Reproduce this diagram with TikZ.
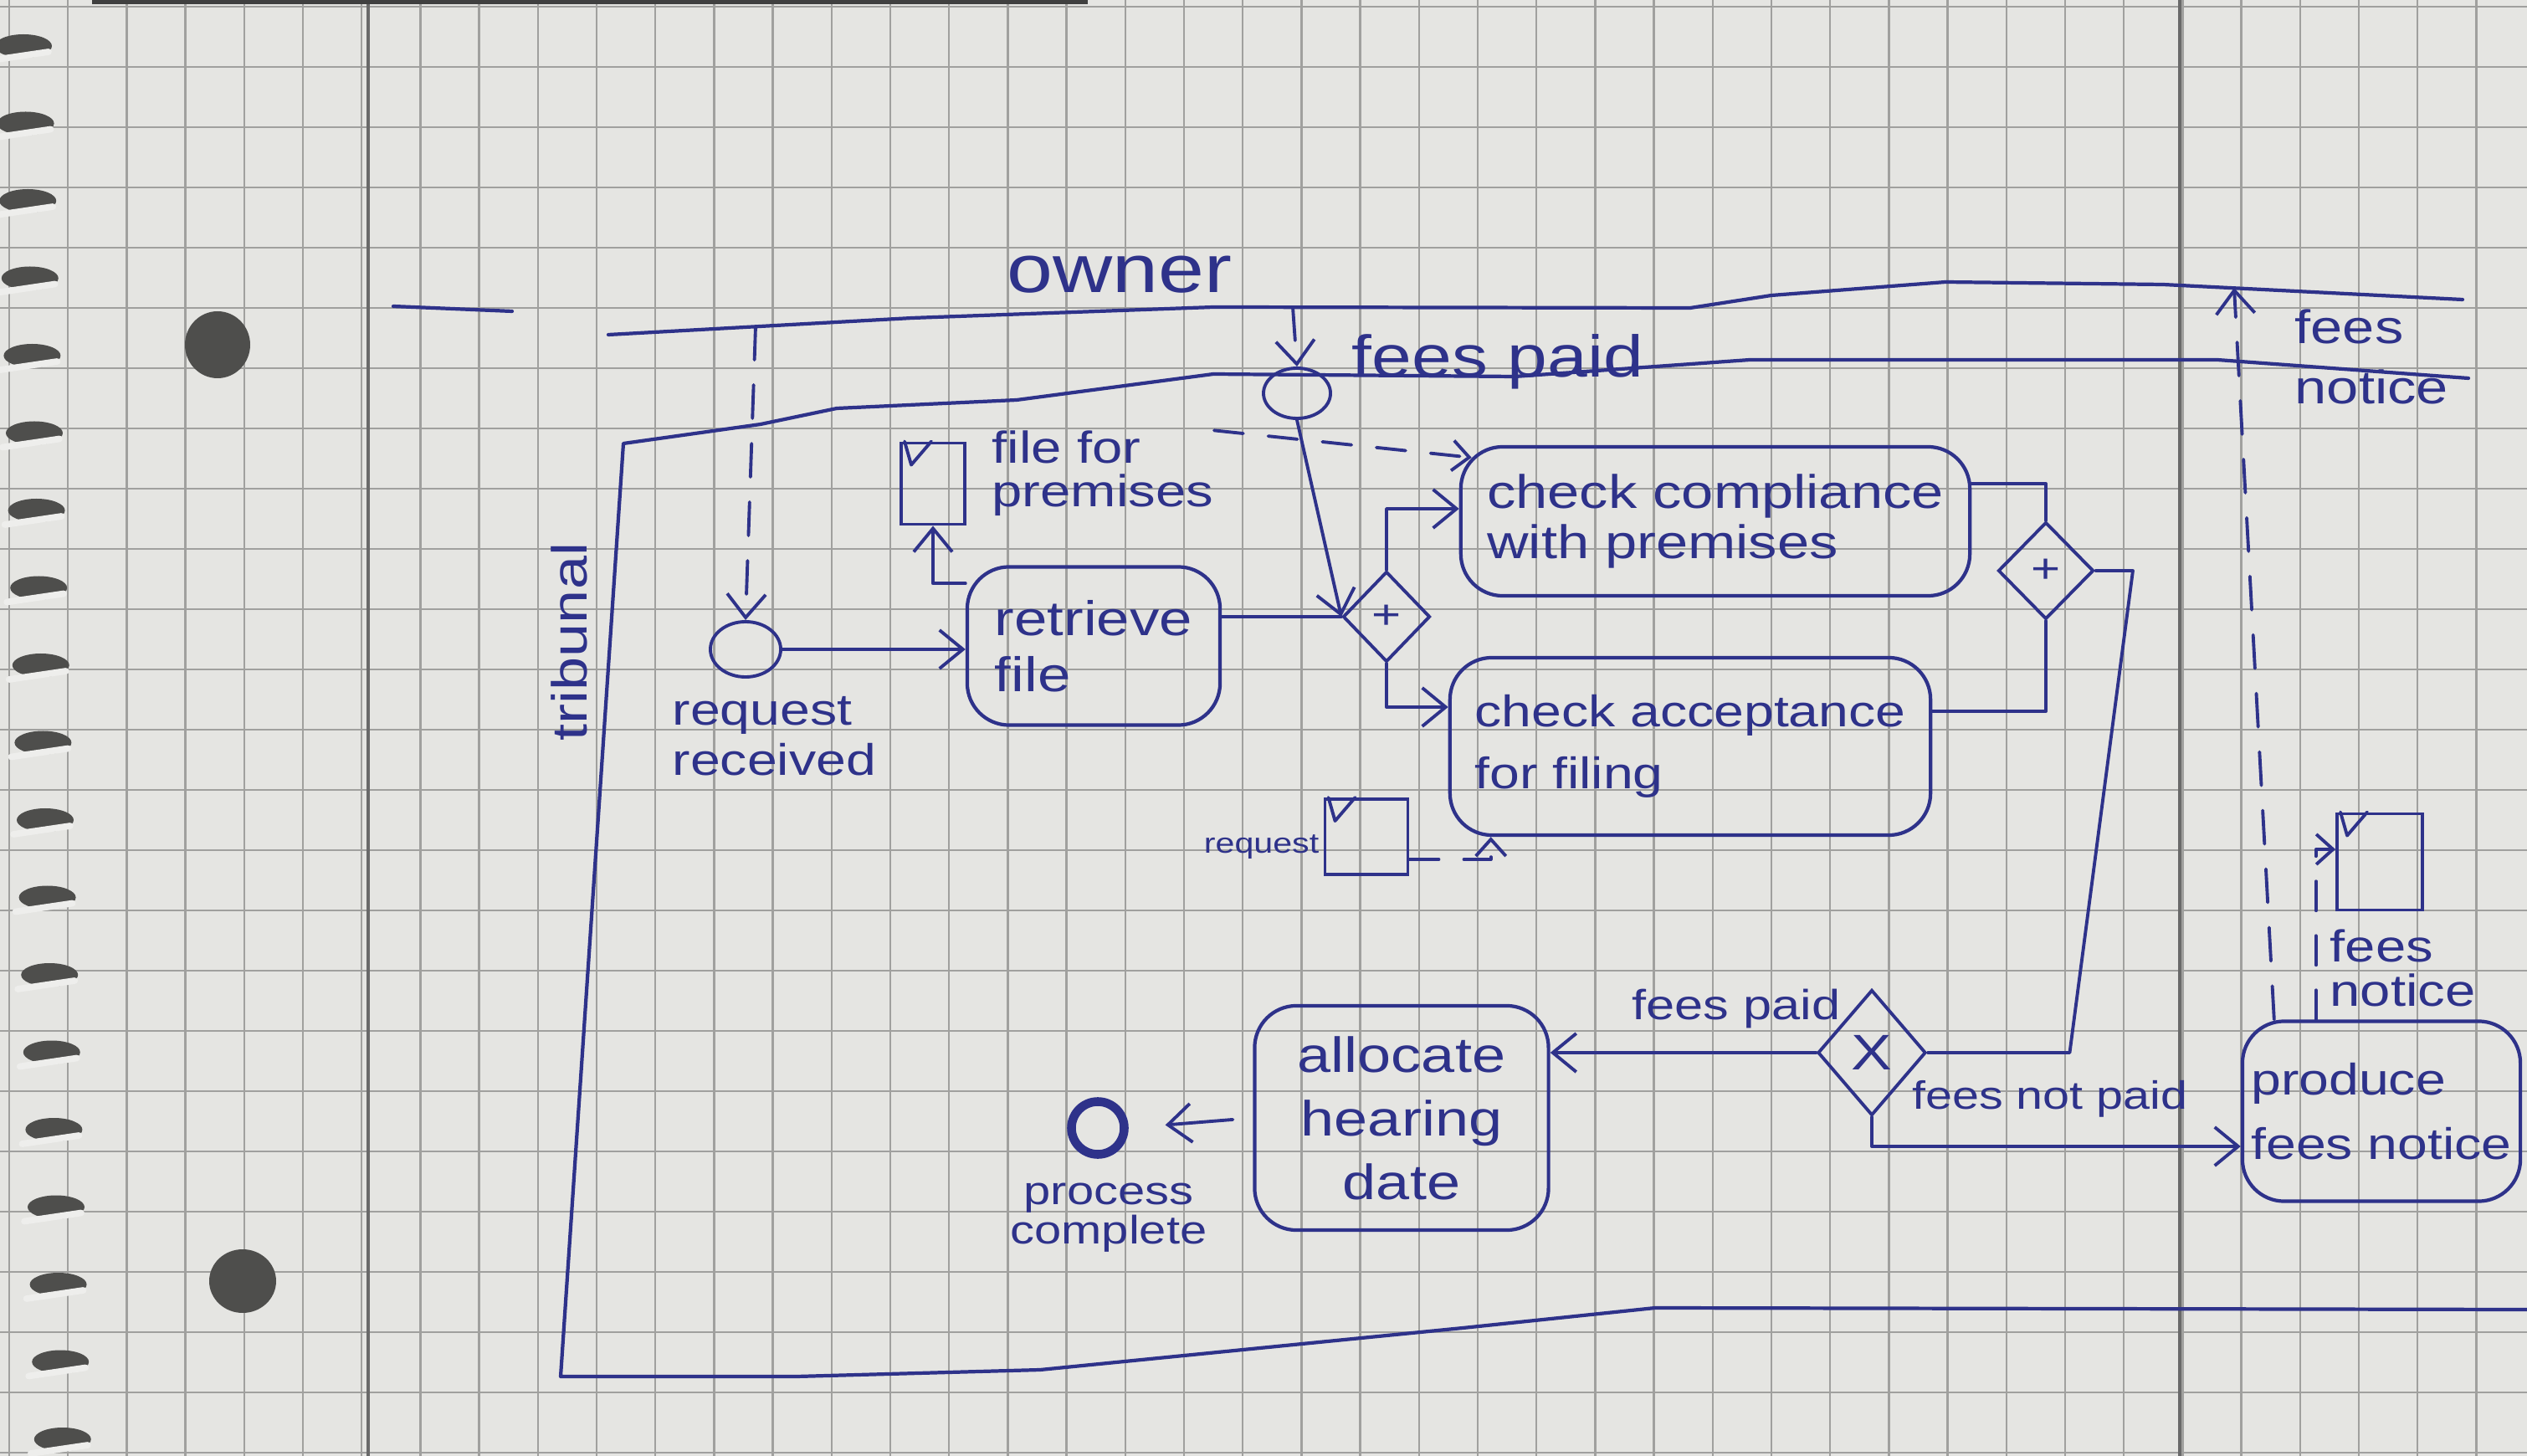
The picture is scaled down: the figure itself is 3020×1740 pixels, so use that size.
\documentclass[tikz,border=0pt]{standalone}
\usepackage{fontspec}
\setmainfont{Liberation Sans}[FakeStretch=1.22]
\usetikzlibrary{shapes.geometric,arrows.meta,calc}
\definecolor{ink}{RGB}{46,50,138}
\definecolor{paper}{RGB}{229,229,226}
\definecolor{gridc}{RGB}{160,160,158}
\definecolor{marginc}{RGB}{105,105,105}
\definecolor{holec}{RGB}{78,78,76}
\definecolor{wirec}{RGB}{238,238,236}
\newcommand\myfs[2]{\fontsize{#1}{#2}\selectfont}
\begin{document}
\begin{tikzpicture}[x=0.01cm,y=-0.01cm,
  pool/.style={draw=ink,line width=1.2pt,line cap=round,line join=round},
  seq/.style={draw=ink,line width=1.1pt,line cap=round,line join=round},
  flow/.style={seq,-{Straight Barb[length=2.8mm,width=4.6mm]}},
  msg/.style={flow,dash pattern=on 4mm off 3mm},
  dassoc/.style={seq,dash pattern=on 3.5mm off 3mm,-{Straight Barb[length=2mm,width=3.6mm]}},
  task/.style={draw=ink,line width=1.2pt,rounded corners=5mm,text=ink,inner sep=0pt,align=left},
  dataobj/.style={draw=ink,line width=1.1pt,inner sep=0pt},
  gate/.style={diamond,draw=ink,line width=1.1pt,inner sep=0pt,text=ink},
  event/.style={ellipse,draw=ink,line width=1.1pt,inner sep=0pt},
  lbl/.style={text=ink,inner sep=0pt,align=left},
  gridline/.style={draw=gridc,line width=0.7pt},
  marginline/.style={draw=marginc,line width=1.3pt}
]
\newcommand\foldmark[1]{\draw[seq] ($(#1.north west)+(6,0)$) -- ($(#1.north west)+(14,28)$) -- ($(#1.north west)+(38,0)$);}
% paper
\useasboundingbox (0,0) rectangle (3020,1740);
\fill[paper] (0,0) rectangle (3020,1740);
\foreach \i in {0,...,43} {\draw[gridline] ({11+70.2*\i},0) -- ({11+70.2*\i},1740);}
\foreach \i in {0,...,24} {\draw[gridline] (0,{8+72*\i}) -- (3020,{8+72*\i});}
\draw[marginline] (440,0) -- (440,1740);
\draw[marginline] (2605,0) -- (2605,1740);
\fill[black!75] (110,0) rectangle (1300,5);
% punch holes and spiral
\fill[holec] (260,412) ellipse [x radius=39, y radius=40];
\fill[holec] (290,1531) ellipse [x radius=40, y radius=38];
\foreach \i in {0,...,18} {
  \fill[holec] ({28+2.6*\i},{55+92.5*\i}) ellipse [x radius=34, y radius=14];
  \draw[wirec,line width=2.2pt,line cap=round] ({-10+2.6*\i},{72+92.5*\i}) -- ({58+2.6*\i},{62+92.5*\i});
}

% pools
\draw[pool] (470,366) -- (612,372);
\draw[pool] (727,400) -- (1090,380) -- (1450,367) -- (2020,368) -- (2117,353) -- (2325,337) -- (2585,340) -- (2943,358);
\draw[pool] (2950,452) -- (2650,430) -- (2091,430) -- (1810,450) -- (1450,447) -- (1215,478) -- (1000,488) -- (909,507) -- (745,530) -- (670,1645) -- (952,1645) -- (1243,1637) -- (1748,1587) -- (1978,1563) -- (3020,1565);
\coordinate (m1) at (903,390);
\coordinate (m2) at (1545,367);
\coordinate (m3) at (2670,344);
\node[lbl,font=\myfs{23}{24}] (ownl) at (1338,328) {owner};
\node[lbl,rotate=90,font=\myfs{16.8}{17}] (tribl) at (680,767) {tribunal};

% nodes
\node[event,minimum width=8.4mm,minimum height=6.6mm] (se) at (891,776) {};
\node[lbl,anchor=west,font=\myfs{15}{17}] (sel) at (803,880) {request\\received};
\node[task,minimum width=30.2mm,minimum height=18.9mm,font=\myfs{16.5}{19}] (rf) at (1307,772) {retrieve\\file};
\node[dataobj,minimum width=7.6mm,minimum height=9.7mm] (fd) at (1115,578) {};
\foldmark{fd}
\node[lbl,anchor=west,font=\myfs{15.2}{14.8}] (fdl) at (1185,566) {file for\\premises};
\node[event,minimum width=8mm,minimum height=6mm] (fp) at (1550,470) {};
\node[lbl,font=\myfs{20}{22}] (fpl) at (1790,432) {fees paid};
\node[gate,minimum width=10.4mm,minimum height=10.8mm,font=\myfs{14}{14}] (g1) at (1657,737) {+};
\node[task,minimum width=60.8mm,minimum height=17.8mm,font=\myfs{16}{17}] (cc) at (2050,623) {check compliance\\with premises};
\node[task,minimum width=57.4mm,minimum height=21.2mm,font=\myfs{15}{21}] (ca) at (2020,892) {check acceptance\\for filing};
\node[dataobj,minimum width=9.9mm,minimum height=9mm] (req) at (1633,1000) {};
\foldmark{req}
\node[lbl,anchor=east,font=\myfs{9.6}{10}] (reql) at (1577,1012) {request};
\node[gate,minimum width=11.4mm,minimum height=11.6mm,font=\myfs{14}{14}] (g2) at (2445,682) {+};
\node[gate,minimum width=12.9mm,minimum height=15mm,font=\myfs{17}{17}] (gx) at (2237,1258) {X};
\node[task,minimum width=35.1mm,minimum height=26.8mm,align=center,font=\myfs{16.8}{21.6}] (al) at (1675,1336) {allocate\\hearing\\date};
\node[circle,draw=ink,line width=3pt,minimum size=6.3mm,inner sep=0pt] (end) at (1312,1348) {};
\node[lbl,align=center,font=\myfs{13.5}{13.5}] (endl) at (1325,1455) {process\\complete};
\node[task,minimum width=33.2mm,minimum height=21.5mm,font=\myfs{15}{22}] (pf) at (2846,1328) {produce\\fees notice};
\node[dataobj,minimum width=10.2mm,minimum height=11.5mm] (fn) at (2844,1030) {};
\foldmark{fn}
\node[lbl,anchor=west,font=\myfs{15.2}{15}] (fnl) at (2784,1157) {fees\\notice};
\node[lbl,anchor=west,font=\myfs{16}{20.5}] (fnt) at (2742,426) {fees\\notice};
\node[lbl,font=\myfs{14.3}{15}] (fpl2) at (2075,1205) {fees paid};
\node[lbl,font=\myfs{13.4}{14}] (fnpl) at (2450,1313) {fees not paid};

% connectors
\draw[msg] (m1) -- (se.north);
\draw[flow] (se.east) -- (se.east -| rf.west);
\draw[flow] ($(rf.north west)+(0,22)$) -| (fd.south);
\draw[dassoc] (fdl.north east) -- ($(cc.north west)+(15,15)$);
\draw[msg] (m2) -- (fp.north);
\draw[flow] (fp.south) -- (g1.west);
\draw[seq] (g1.west -| rf.east) -- (g1.west);
\draw[flow] (g1.north) |- ($(cc.west)+(0,-15)$);
\draw[flow] (g1.south) |- ($(ca.west)+(0,-47)$);
\draw[dassoc] ($(req.south east)+(0,-20)$) -| ($(ca.south west)+(51,0)$);
\draw[seq] ($(cc.east)+(0,-45)$) -| (g2.north);
\draw[seq] ($(ca.east)+(0,-42)$) -| (g2.south);
\draw[seq] (g2.east) -- ++(45,0) -- ($(gx.east)+(170,0)$) -- (gx.east);
\draw[flow] (gx.west) -- (gx.west -| al.east);
\draw[flow] (gx.south) |- ($(pf.west)+(0,42)$);
\draw[flow,shorten <=2.4mm,shorten >=4.4mm] (al.west) -- (end.east);
\draw[dassoc] ($(pf.north west)+(90,0)$) |- ($(fn.west)+(0,-15)$);
\draw[msg] ($(pf.north west)+(40,0)$) -- (m3);
\end{tikzpicture}
\end{document}
